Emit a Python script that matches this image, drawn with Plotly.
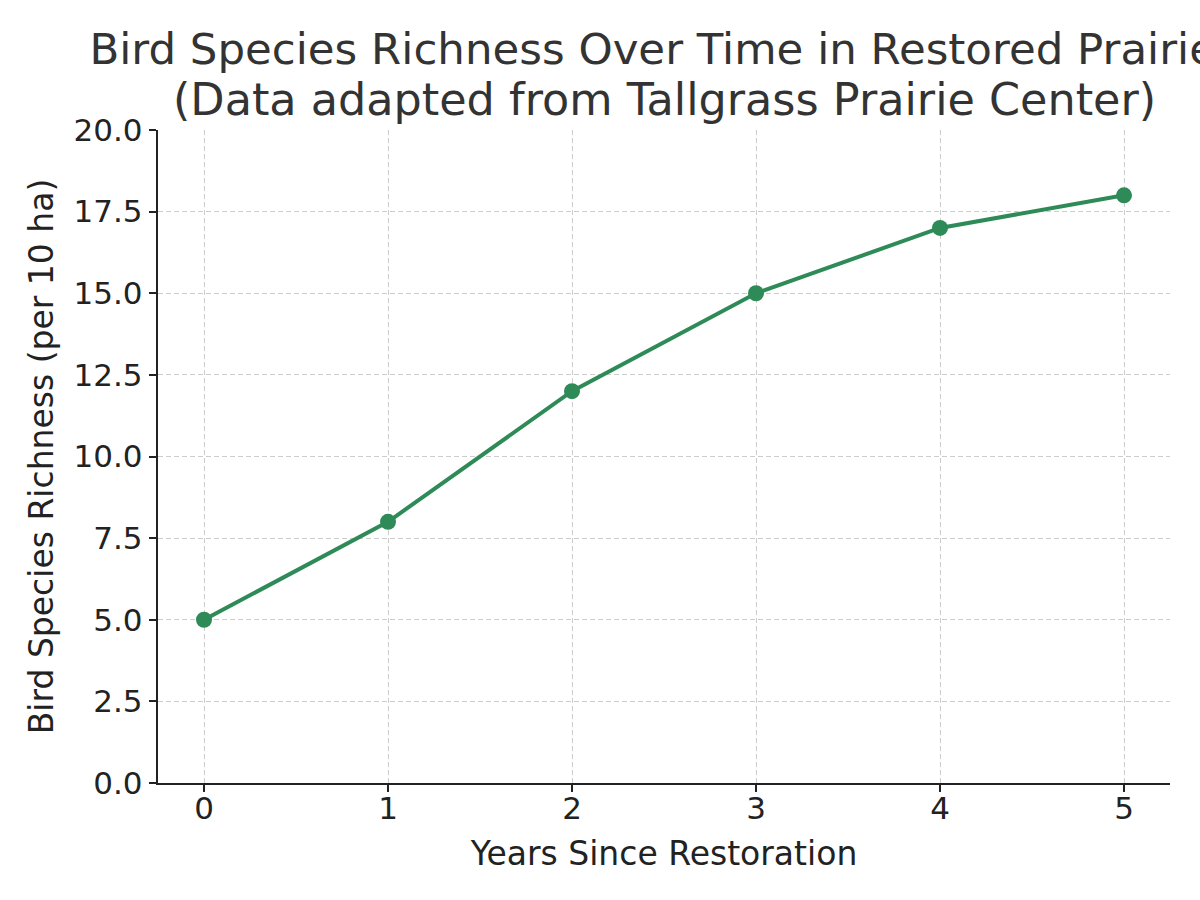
import plotly.graph_objects as go

years = [0, 1, 2, 3, 4, 5]
richness = [5, 8, 12, 15, 17, 18]
y_ticks = [0, 2.5, 5, 7.5, 10, 12.5, 15, 17.5, 20]
y_tick_labels = ["0.0", "2.5", "5.0", "7.5", "10.0", "12.5", "15.0", "17.5", "20.0"]
title_line1 = "Bird Species Richness Over Time in Restored Prairies"
title_line2 = "(Data adapted from Tallgrass Prairie Center)"

fig = go.Figure()
fig.add_trace(go.Scatter(
    x=years, y=richness, mode="lines+markers",
    line=dict(color="#2E8B57", width=4),
    marker=dict(color="#2E8B57", size=16),
    showlegend=False,
))

font_family = "DejaVu Sans"
grid_dash = "5px,3px"
fig.update_layout(
    width=1200, height=900,
    margin=dict(l=158, r=30, t=130, b=117),
    paper_bgcolor="white", plot_bgcolor="white",
    font=dict(family=font_family, color="#222222", size=31),
    title=dict(
        text=title_line1,
        x=0.5, xref="paper", xanchor="center",
        y=1 - 49 / 900, yref="container", yanchor="middle",
        font=dict(family=font_family, size=43.5, color="#333333"),
    ),
    annotations=[dict(
        text=title_line2, x=0.5, xref="paper", xanchor="center",
        y=1 + (130 - 99) / 653, yref="paper", yanchor="middle",
        showarrow=False, font=dict(family=font_family, size=44.5, color="#333333"),
    )],
    xaxis=dict(
        range=[-0.25, 5.25], tickvals=years, ticktext=[str(v) for v in years],
        showline=True, linecolor="#222222", linewidth=2.4,
        ticks="outside", ticklen=7, tickwidth=2, tickcolor="#222222",
        showgrid=True, gridcolor="#cccccc", gridwidth=1.2, griddash=grid_dash,
        zeroline=False, mirror=False,
        title=dict(text="Years Since Restoration", font=dict(size=33, color="#222222"), standoff=16),
        tickfont=dict(size=31),
        ticklabelstandoff=-10,
    ),
    yaxis=dict(
        range=[0, 20], tickvals=y_ticks, ticktext=y_tick_labels,
        showline=True, linecolor="#222222", linewidth=2.4,
        ticks="outside", ticklen=7, tickwidth=2, tickcolor="#222222",
        showgrid=True, gridcolor="#cccccc", gridwidth=1.2, griddash=grid_dash,
        zeroline=False, mirror=False,
        title=dict(text="Bird Species Richness (per 10 ha)", font=dict(size=33, color="#222222"), standoff=10),
        tickfont=dict(size=31),
    ),
)

fig.write_html("out.html")
